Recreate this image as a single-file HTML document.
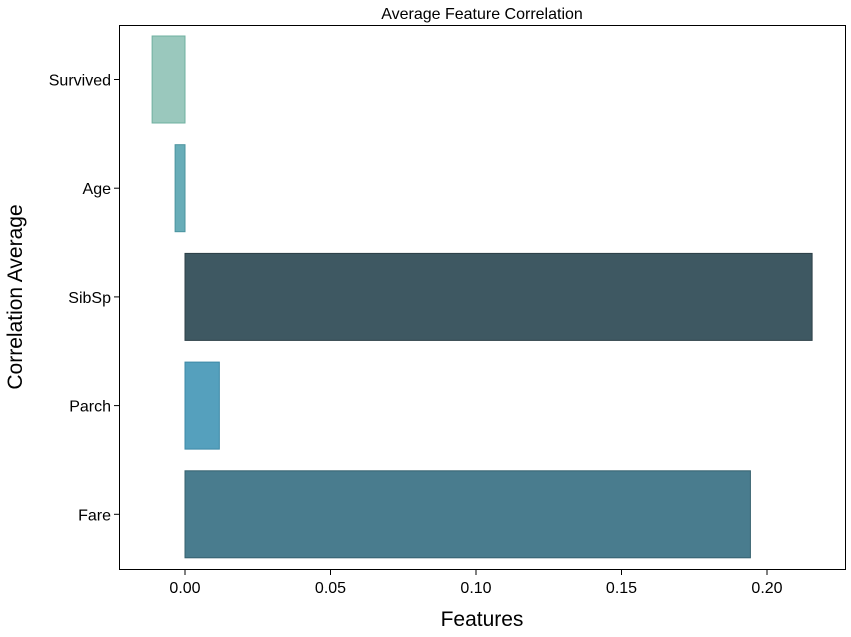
<!DOCTYPE html>
<html><head><meta charset="utf-8"><style>body{margin:0;background:#fff}svg{display:block;font-family:"Liberation Sans",sans-serif}</style></head>
<body>
<svg id="chart" width="851" height="637">
<rect x="0" y="0" width="851" height="637" fill="#fff"/>
<text x="482" y="19" font-size="16" text-anchor="middle">Average Feature Correlation</text>
<text x="482" y="626" font-size="21" text-anchor="middle">Features</text>
<text transform="translate(22,297) rotate(-90)" font-size="21" text-anchor="middle">Correlation Average</text>
<g id="bars"></g><g id="ticks"></g>
<rect x="119.5" y="25.5" width="726" height="544" fill="none" stroke="#000" stroke-width="1"/>
</svg>
<script>
const categories = ["Survived","Age","SibSp","Parch","Fare"];
const values = [-0.0113,-0.0034,0.2155,0.0118,0.1943];
const colors = ["#9ac8bd","#68adb8","#3e5862","#55a0bd","#497c8e"];
const edges = ["#6fb0a0","#4a939e","#2c3f47","#3c88a6","#35606e"];
const xTicks = [0,0.05,0.10,0.15,0.20];
const xTickLabels = ["0.00","0.05","0.10","0.15","0.20"];
const NS="http://www.w3.org/2000/svg";
const x = v => 185 + v*2910;
const yc = i => 79.5 + i*108.7;
const bh = 87;
const bars=document.getElementById('bars'), ticks=document.getElementById('ticks');
categories.forEach((c,i)=>{
  const r=document.createElementNS(NS,'rect');
  const x0=Math.min(x(0),x(values[i])), x1=Math.max(x(0),x(values[i]));
  r.setAttribute('x',x0);r.setAttribute('width',x1-x0);
  r.setAttribute('y',yc(i)-bh/2);r.setAttribute('height',bh);
  r.setAttribute('fill',colors[i]);r.setAttribute('stroke',edges[i]);r.setAttribute('stroke-width','1');
  
  
  bars.appendChild(r);
  const t=document.createElementNS(NS,'line');
  t.setAttribute('x1',114);t.setAttribute('x2',119);t.setAttribute('y1',yc(i));t.setAttribute('y2',yc(i));t.setAttribute('stroke','#000');
  
  
  ticks.appendChild(t);
  const l=document.createElementNS(NS,'text');
  l.setAttribute('x',111);l.setAttribute('y',yc(i)+6);l.setAttribute('text-anchor','end');l.setAttribute('font-size','16');
  l.textContent=c;
  
  
  ticks.appendChild(l);
});
xTicks.forEach((v,i)=>{
  const t=document.createElementNS(NS,'line');
  t.setAttribute('x1',x(v));t.setAttribute('x2',x(v));t.setAttribute('y1',570);t.setAttribute('y2',575);t.setAttribute('stroke','#000');
  
  
  ticks.appendChild(t);
  const l=document.createElementNS(NS,'text');
  l.setAttribute('x',x(v));l.setAttribute('y',593);l.setAttribute('text-anchor','middle');l.setAttribute('font-size','16');
  l.textContent=xTickLabels[i];
  
  
  ticks.appendChild(l);
});
</script>
</body></html>
